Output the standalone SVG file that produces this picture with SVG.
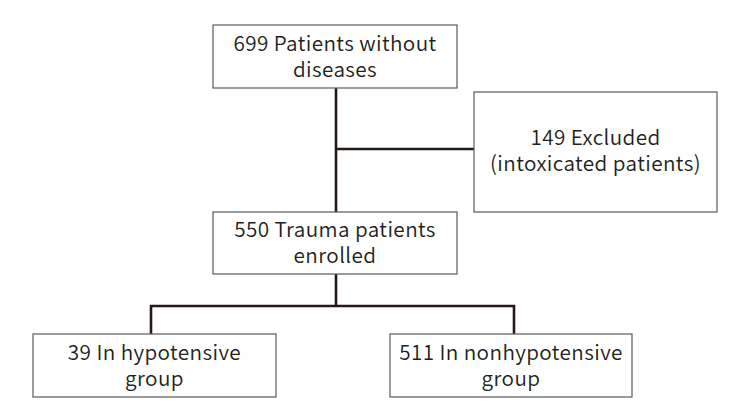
<svg xmlns="http://www.w3.org/2000/svg" width="743" height="416" viewBox="0 0 743 416">
<style>
.box{fill:#fff;stroke:#5a5a5a;stroke-width:1.2}
.t{font-family:"Noto Sans CJK KR","Noto Sans",sans-serif;font-size:20.7px;font-weight:350;letter-spacing:0.4px;fill:#231f20;text-anchor:middle}
.c{fill:none;stroke:#231815;stroke-width:2.6}
</style>
<rect width="743" height="416" fill="#fff"/>
<g id="connectors">
<path class="c" d="M336 88V212"/>
<path class="c" d="M336 149H474"/>
<path class="c" d="M336 274V306"/>
<path class="c" d="M151 334V306H514V334"/>
</g>
<g id="n1"><rect class="box" x="213" y="25" width="244" height="63"/><text class="t" x="335" y="51">699 Patients without</text><text class="t" x="335" y="77">diseases</text></g>
<g id="n2"><rect class="box" x="474" y="92" width="243" height="120"/><text class="t" x="595.5" y="145">149 Excluded</text><text class="t" x="595.5" y="171">(intoxicated patients)</text></g>
<g id="n3"><rect class="box" x="213" y="212" width="244" height="62"/><text class="t" x="335" y="237">550 Trauma patients</text><text class="t" x="335" y="263">enrolled</text></g>
<g id="n4"><rect class="box" x="33" y="334" width="243" height="63"/><text class="t" x="154.5" y="360">39 In hypotensive</text><text class="t" x="154.5" y="386">group</text></g>
<g id="n5"><rect class="box" x="390" y="334" width="242" height="63"/><text class="t" x="511" y="360">511 In nonhypotensive</text><text class="t" x="511" y="386">group</text></g>
</svg>
